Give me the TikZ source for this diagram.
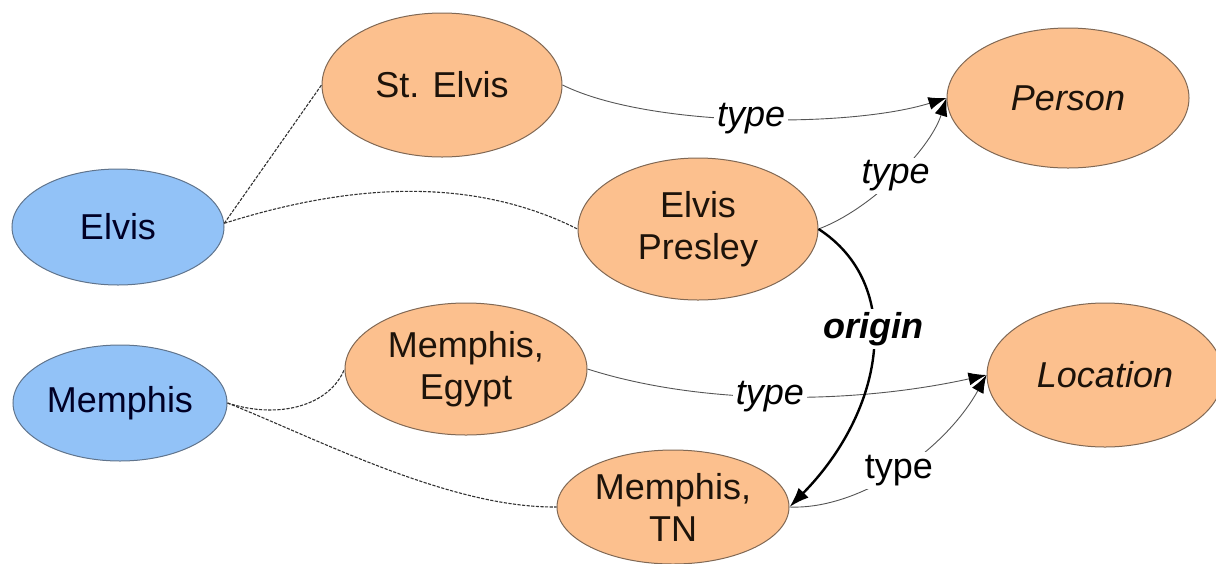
\documentclass[tikz,border=0pt]{standalone}
\usepackage{fontspec}
\setmainfont{Liberation Sans}
\usetikzlibrary{shapes.geometric,arrows.meta}
\definecolor{orangefill}{RGB}{252,192,142}
\definecolor{bluefill}{RGB}{146,194,247}
\definecolor{orangeedge}{RGB}{128,104,84}
\definecolor{blueedge}{RGB}{96,116,140}
\definecolor{linkgray}{RGB}{85,85,85}
\definecolor{dashgray}{RGB}{50,50,50}
\begin{document}
\begin{tikzpicture}[x=0.5pt,y=-0.5pt,
  ent/.style={ellipse, draw=orangeedge, fill=orangefill, line width=0.5pt, inner sep=0pt,
    align=center, font=\fontsize{18}{21}\selectfont, text=black!85!brown},
  mention/.style={ent, draw=blueedge, fill=bluefill, text=black!85!blue},
  cand/.style={draw=dashgray, line width=0.55pt, dash pattern=on 1.6pt off 0.7pt},
  typ/.style={draw=linkgray, line width=0.45pt, -{Latex[length=9pt,width=6.5pt,color=black]}},
  orig/.style={draw=black, line width=1.2pt, -{Latex[length=10pt,width=7pt]}},
  lbl/.style={fill=white, inner sep=1.5pt, font=\fontsize{18}{21}\selectfont, text=black}]
\useasboundingbox (0,0) rectangle (1216,563);

\node[mention, minimum width=106pt, minimum height=58pt] (elvis) at (118,227) {Elvis};
\node[mention, minimum width=107pt, minimum height=58pt] (memphis) at (120,403) {Memphis};
\node[ent, minimum width=120pt, minimum height=72pt] (stelvis) at (442,85) {St. Elvis};
\node[ent, minimum width=120pt, minimum height=71pt] (presley) at (698,229) {Elvis\\Presley};
\node[ent, minimum width=121pt, minimum height=66pt] (egypt) at (466,369) {Memphis,\\Egypt};
\node[ent, minimum width=116pt, minimum height=57pt] (tn) at (673,507) {Memphis,\\TN};
\node[ent, minimum width=121pt, minimum height=70pt] (person) at (1068,98) {\itshape Person};
\node[ent, minimum width=118pt, minimum height=72pt] (location) at (1105,375) {\itshape Location};

\draw[cand] (elvis.2) -- (stelvis.west);
\draw[cand] (elvis.2) .. controls (330,190) and (460,170) .. (presley.west);
\draw[cand] (memphis.east) .. controls (280,420) and (330,405) .. (egypt.west);
\draw[cand] (memphis.east) .. controls (320,440) and (450,508) .. (tn.west);

\draw[typ] (stelvis.east) .. controls (650,128) and (850,128) .. node[lbl,pos=0.5] {\itshape type} (person.west);
\draw[typ] (presley.east) .. controls (870,210) and (930,150) .. node[lbl,pos=0.5] {\itshape type} (person.west);
\draw[typ] (egypt.east) .. controls (700,405) and (850,405) .. node[lbl,pos=0.48] {\itshape type} (location.west);
\draw[typ] (tn.east) .. controls (860,510) and (945,450) .. node[lbl,pos=0.5] {type} (location.west);

\draw[orig] (presley.east) .. controls (905,285) and (885,410) .. node[lbl,pos=0.42] {\bfseries\itshape origin} (tn.east);
\end{tikzpicture}
\end{document}
